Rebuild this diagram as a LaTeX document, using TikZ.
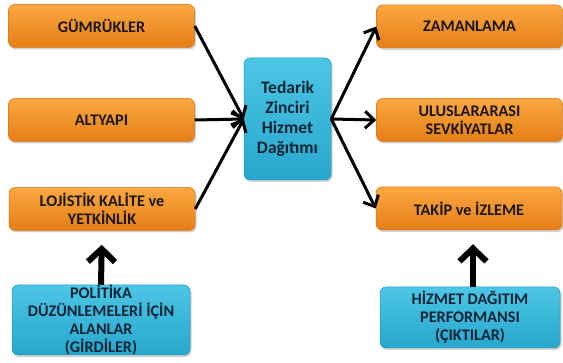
\documentclass[tikz,border=0pt]{standalone}
\usepackage{fontspec}
\setmainfont{Carlito}
\usetikzlibrary{arrows.meta,shadows}

\definecolor{turuncuA}{HTML}{FBA842}
\definecolor{turuncuB}{HTML}{E67E17}
\definecolor{turuncuC}{HTML}{D9740F}
\definecolor{maviA}{HTML}{4CC6E6}
\definecolor{maviB}{HTML}{28A6CC}
\definecolor{maviC}{HTML}{2196BA}
\definecolor{yazi}{HTML}{1A1612}
\definecolor{maviyazi}{HTML}{0D2434}

\begin{document}
\begin{tikzpicture}[x=1pt, y=-1pt,
    kutu/.style={rounded corners=6pt, line width=0.5pt, align=center,
        inner sep=0pt, font=\bfseries\fontsize{16.2}{18}\selectfont,
        drop shadow={opacity=0.35, shadow xshift=1.5pt, shadow yshift=-2pt}},
    turuncu/.style={kutu, top color=turuncuA, bottom color=turuncuB,
        draw=turuncuC, text=yazi, minimum width=186pt, minimum height=43pt},
    mavi/.style={kutu, top color=maviA, bottom color=maviB,
        draw=maviC, text=maviyazi},
    ok/.style={-{Straight Barb[length=9pt, width=17pt]}, line width=3pt},
    kalinok/.style={-{Straight Barb[length=13pt, width=27pt]}, line width=6pt}]

    \useasboundingbox (0,0) rectangle (563,363);

    % girdiler
    \node[turuncu] (gumruk) at (101.5,26) {GÜMRÜKLER};
    \node[turuncu] (altyapi) at (101.5,120) {ALTYAPI};
    \node[turuncu] (lojistik) at (102,209) {LOJİSTİK KALİTE ve\\YETKİNLİK};
    \node[mavi, minimum width=178pt, minimum height=65pt] (politika) at (101,320)
        {POLİTİKA\\DÜZÜNLEMELERİ İÇİN\\ALANLAR\\(GİRDİLER)};

    % merkez
    \node[mavi, minimum width=87pt, minimum height=122pt,
        font=\bfseries\fontsize{17.5}{20}\selectfont] (merkez) at (287.5,119)
        {Tedarik\\Zinciri\\Hizmet\\Dağıtımı};

    % çıktılar
    \node[turuncu] (zaman) at (469.5,26.5) {ZAMANLAMA};
    \node[turuncu] (ulus) at (469.5,120) {ULUSLARARASI\\SEVKİYATLAR};
    \node[turuncu] (takip) at (469,208.5) {TAKİP ve İZLEME};
    \node[mavi, minimum width=180pt, minimum height=61pt] (performans) at (470,317.5)
        {HİZMET DAĞITIM\\PERFORMANSI\\(ÇIKTILAR)};

    \draw[ok] (gumruk.east) -- (merkez.west);
    \draw[ok] (altyapi.east) -- (merkez.west);
    \draw[ok] (lojistik.east) -- (merkez.west);
    \draw[ok] (merkez.east) -- (zaman.west);
    \draw[ok] (merkez.east) -- (ulus.west);
    \draw[ok] (merkez.east) -- (takip.west);

    \draw[kalinok, shorten >=14pt] (politika.north) -- (lojistik.south);
    \draw[kalinok, shorten >=14pt] (performans.north -| 473,0) -- (takip.south -| 473,0);
\end{tikzpicture}
\end{document}
